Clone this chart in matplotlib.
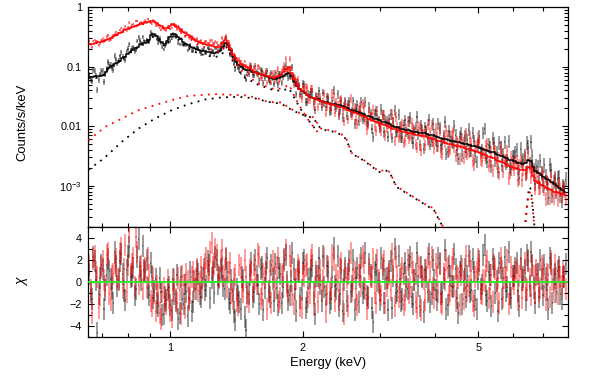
import numpy as np
import matplotlib
matplotlib.use('Agg')
import matplotlib.pyplot as plt
from matplotlib.ticker import FixedLocator, NullFormatter, LogLocator, MultipleLocator

plt.rcParams['font.family'] = ['Liberation Sans', 'DejaVu Sans']

# Channel grid (bin centres, keV): 360 channels, model given per pair of channels
n_bins = 360
energy = np.geomspace(0.655, 7.9, n_bins)
step = (np.log10(7.9) - np.log10(0.655)) / (n_bins - 1)
e_lo = energy * (1 - 10 ** (-step / 2))
e_hi = energy * (10 ** (step / 2) - 1)
energy_model = np.sqrt(energy[0::2] * energy[1::2])

# Folded model per channel pair, log10(counts/s/keV)
model_black = [
    -1.17, -1.17, -1.16, -1.16, -1.15, -1.13, -1.08, -1.02, -0.99, -0.96,
    -0.94, -0.90, -0.86, -0.83, -0.79, -0.75, -0.72, -0.69, -0.66, -0.62,
    -0.60, -0.60, -0.55, -0.47, -0.45, -0.48, -0.53, -0.58, -0.62, -0.57,
    -0.50, -0.45, -0.45, -0.50, -0.54, -0.58, -0.61, -0.63, -0.66, -0.68,
    -0.70, -0.72, -0.73, -0.74, -0.75, -0.75, -0.76, -0.76, -0.75, -0.73,
    -0.66, -0.60, -0.64, -0.72, -0.84, -0.92, -0.97, -1.01, -1.03, -1.05,
    -1.06, -1.08, -1.09, -1.11, -1.12, -1.14, -1.16, -1.18, -1.19, -1.20,
    -1.20, -1.19, -1.17, -1.15, -1.12, -1.10, -1.16, -1.25, -1.32, -1.38,
    -1.41, -1.44, -1.47, -1.50, -1.52, -1.54, -1.55, -1.57, -1.59, -1.60,
    -1.61, -1.62, -1.63, -1.64, -1.65, -1.66, -1.68, -1.70, -1.72, -1.73,
    -1.75, -1.76, -1.78, -1.80, -1.82, -1.83, -1.85, -1.87, -1.88, -1.90,
    -1.92, -1.93, -1.95, -1.97, -1.99, -2.01, -2.02, -2.04, -2.05, -2.06,
    -2.07, -2.08, -2.09, -2.10, -2.11, -2.12, -2.12, -2.13, -2.14, -2.15,
    -2.17, -2.18, -2.20, -2.21, -2.22, -2.23, -2.24, -2.25, -2.26, -2.27,
    -2.28, -2.29, -2.30, -2.31, -2.33, -2.34, -2.35, -2.37, -2.38, -2.40,
    -2.41, -2.43, -2.44, -2.46, -2.48, -2.50, -2.52, -2.54, -2.56, -2.57,
    -2.59, -2.61, -2.62, -2.63, -2.62, -2.57, -2.59, -2.68, -2.75, -2.78,
    -2.82, -2.85, -2.88, -2.91, -2.94, -2.97, -3.00, -3.03, -3.07, -3.10]

model_red = [
    -0.61, -0.61, -0.60, -0.59, -0.58, -0.57, -0.55, -0.53, -0.51, -0.49,
    -0.46, -0.44, -0.41, -0.39, -0.37, -0.35, -0.33, -0.31, -0.29, -0.28,
    -0.27, -0.25, -0.24, -0.23, -0.23, -0.26, -0.29, -0.32, -0.35, -0.35,
    -0.31, -0.28, -0.29, -0.33, -0.37, -0.41, -0.44, -0.47, -0.50, -0.53,
    -0.56, -0.58, -0.60, -0.62, -0.63, -0.64, -0.65, -0.66, -0.66, -0.66,
    -0.60, -0.55, -0.60, -0.70, -0.80, -0.86, -0.91, -0.95, -0.97, -1.00,
    -1.02, -1.05, -1.08, -1.11, -1.12, -1.14, -1.15, -1.16, -1.18, -1.19,
    -1.18, -1.16, -1.13, -1.08, -1.03, -1.00, -1.10, -1.20, -1.30, -1.37,
    -1.40, -1.43, -1.47, -1.50, -1.53, -1.55, -1.56, -1.58, -1.60, -1.61,
    -1.62, -1.63, -1.65, -1.66, -1.67, -1.68, -1.70, -1.72, -1.74, -1.76,
    -1.77, -1.79, -1.81, -1.83, -1.85, -1.87, -1.89, -1.91, -1.92, -1.94,
    -1.96, -1.98, -2.00, -2.02, -2.04, -2.05, -2.07, -2.08, -2.09, -2.10,
    -2.11, -2.12, -2.13, -2.14, -2.15, -2.16, -2.17, -2.18, -2.19, -2.21,
    -2.22, -2.24, -2.25, -2.27, -2.28, -2.29, -2.30, -2.32, -2.33, -2.34,
    -2.35, -2.37, -2.38, -2.39, -2.40, -2.41, -2.43, -2.45, -2.47, -2.49,
    -2.51, -2.52, -2.54, -2.56, -2.58, -2.60, -2.62, -2.64, -2.66, -2.68,
    -2.70, -2.72, -2.74, -2.74, -2.73, -2.69, -2.71, -2.84, -2.92, -2.95,
    -2.98, -3.00, -3.03, -3.05, -3.08, -3.10, -3.11, -3.13, -3.14, -3.15]

# Residuals (data - model) / error: first and second channel of each pair
chi_black_a = [
    0.8, -1.5, 1.9, -4.6, 0.4, 1.2, -0.7, 2.1, 0.3, -1.9,
    1.5, 0.2, 2.6, -0.8, 1.1, 3.2, 0.6, -1.2, 2.3, 1.4,
    3.3, 0.9, -0.5, 1.8, -1.4, 0.3, -2.2, -0.9, -2.9, -1.6,
    -0.4, -2.5, -1.1, 0.7, -2.8, -1.5, -0.2, -3.1, 0.9, -1.8,
    -0.6, 0.8, -1.3, 1.2, -0.3, 1.6, 0.4, -1.0, 2.0, 0.5,
    1.3, -0.6, 0.9, -1.9, -0.8, -3.4, -1.2, -2.4, 0.2, -4.3,
    -1.1, 1.8, -0.9, 0.6, -2.0, 1.4, -0.5, 2.2, -1.3, 0.3,
    1.7, -2.1, 0.8, -0.4, 2.5, -1.6, 0.1, 1.2, -2.6, 0.9,
    -0.7, 2.0, -1.8, 0.4, 1.5, -2.9, 0.6, -0.2, 2.4, -1.2,
    0.9, -1.5, 3.1, -0.6, -2.2, 1.1, 0.2, -1.7, 1.9, -0.3,
    -2.5, 1.3, 0.5, -1.0, 2.7, -1.4, 0.7, -3.6, 1.6, -0.1,
    2.2, -1.9, 0.4, 1.0, -2.3, 3.0, -0.8, 0.3, -1.5, 1.8,
    -0.6, 2.3, -2.0, 0.8, -0.3, 1.4, -2.7, 0.5, 2.6, -1.1,
    0.2, -1.6, 1.7, -0.9, 2.9, -2.1, 0.6, -0.4, 1.2, -2.8,
    1.5, 0.1, -1.3, 2.4, -0.7, 0.9, -2.4, 1.9, -0.2, 3.4,
    -1.7, 0.7, 2.1, -1.0, -2.6, 1.3, 0.4, -0.8, 2.8, -1.4,
    0.6, 1.8, -2.2, 0.2, 1.1, 2.5, -0.3, 1.6, -1.9, 0.8,
    2.0, -1.2, 0.4, -2.4, 1.7, 0.3, -0.9, 1.4, -1.5, 0.5]

chi_black_b = [
    -0.9, 2.3, 0.2, -1.1, 1.6, -2.4, 0.7, 1.0, -0.5, 2.8,
    -0.3, 1.9, 0.8, -1.6, 2.4, 0.5, 1.3, -0.6, 3.9, 0.2,
    1.1, 2.0, -1.2, 0.6, -0.8, -1.9, 0.4, -3.0, -1.3, -0.7,
    -2.1, 0.3, -1.7, -3.3, 0.5, -2.0, -0.9, -1.4, -2.6, 0.1,
    1.0, -1.1, 0.4, -0.7, 1.9, -1.4, 0.9, 2.3, -0.2, 1.1,
    -0.3, 2.1, -1.5, 0.2, -2.7, -0.6, -1.8, 0.5, -3.2, -1.0,
    0.7, -1.3, 2.0, -0.2, 1.2, -2.5, 0.9, -0.8, 1.6, -1.7,
    -0.5, 1.3, -1.9, 2.1, 0.0, -1.2, 2.7, -0.6, 1.0, -1.4,
    1.8, -2.3, 0.3, 1.1, -1.0, 0.6, 2.2, -1.7, -0.4, 1.5,
    -1.9, 0.5, -0.3, 2.4, -1.1, -2.6, 1.3, 0.8, -0.9, 2.0,
    0.4, -1.8, 2.2, -0.5, -1.2, 1.7, -2.3, 0.9, 0.1, -1.6,
    1.2, 0.3, -2.5, 1.9, 0.6, -1.0, 2.4, -1.7, 0.8, -0.4,
    1.6, -1.3, 0.2, 2.7, -2.2, 0.5, 1.1, -0.9, -1.8, 2.0,
    -0.7, 2.2, -1.1, 0.4, -2.4, 1.5, -0.3, 2.6, -1.4, 0.9,
    -2.0, 1.2, 0.6, -0.9, 2.1, -1.6, 0.3, -0.6, 2.5, -1.2,
    0.9, -2.2, 1.4, 0.1, 1.8, -1.5, 2.3, -0.4, -1.1, 0.6,
    1.3, -0.8, 2.1, 0.5, -1.6, 1.9, 2.8, -0.5, 0.7, -1.3,
    0.3, 1.6, -0.7, 2.2, -1.9, 0.8, 1.0, -1.1, 0.5, 1.7]

chi_red_a = [
    1.6, -2.8, 2.4, 0.5, -1.2, 1.9, -0.3, 2.7, -1.6, 0.8,
    2.1, 0.4, 3.1, 1.2, -0.9, 4.6, 1.7, -0.4, 2.8, 0.9,
    -0.6, 1.3, 2.2, -1.7, 0.4, -2.6, -1.1, -3.3, -0.5, -2.0,
    -1.4, -3.2, 0.2, -1.9, -0.7, 0.6, -2.3, 0.1, -1.0, 0.9,
    0.3, -0.8, 1.4, 0.6, 2.2, 1.0, 3.6, 1.7, 2.5, 0.4,
    2.9, 1.1, -0.4, 1.8, -1.5, 0.7, -2.1, 1.3, -0.9, 0.5,
    -1.8, 0.9, 1.6, -0.2, 2.3, -1.1, 0.4, -2.4, 1.0, 1.9,
    -0.6, 2.2, -1.4, 0.8, 2.9, -0.9, 1.5, -2.0, 0.3, 1.2,
    -2.3, 0.6, 1.7, -1.0, 2.5, -0.4, -1.8, 1.1, 0.2, -2.7,
    1.4, -0.5, 2.0, 0.7, -1.6, 1.8, -2.9, 0.4, 1.2, -0.8,
    0.9, -2.1, 1.6, 2.4, -0.6, -1.3, 0.5, 2.1, -1.9, 0.2,
    -1.2, 1.9, -0.3, 0.8, 2.6, -2.2, 0.6, -0.9, 1.3, -1.6,
    2.0, -0.4, 0.9, -1.8, 1.5, -2.5, 0.3, 1.1, -0.7, 2.3,
    -1.4, 0.6, 1.8, -2.0, 0.2, 1.3, -0.8, 2.1, -1.7, 0.4,
    0.7, -1.5, 2.4, -0.3, 1.0, -2.2, 0.9, 1.6, -1.1, 0.1,
    1.9, -0.6, -1.8, 1.2, 0.4, 2.2, -1.3, 0.5, -2.0, 1.4,
    -0.2, 1.1, 0.6, -1.4, 1.8, -0.7, 0.3, 1.5, -1.0, 0.8,
    -0.5, 1.2, -1.6, 0.7, 1.9, -0.9, 0.4, 1.1, -0.3, 0.6]

chi_red_b = [
    -0.7, 2.1, 0.9, -2.3, 1.4, 0.2, 2.5, -1.1, 0.6, 1.8,
    0.3, 2.7, -0.5, 3.4, 1.6, 0.8, 2.2, 4.1, -0.2, 1.5,
    1.0, -0.4, 0.7, -2.2, -1.0, -0.3, -2.8, -0.9, -1.7, 0.2,
    -2.6, -0.8, -1.5, 0.4, -2.9, -0.2, 0.8, -1.6, 0.5, -0.6,
    1.2, 0.0, -0.5, 1.7, 0.9, 2.8, 1.4, 3.0, 0.7, 1.9,
    0.6, 2.2, 0.9, -1.0, 0.3, -1.7, 1.6, -0.4, 2.0, -1.3,
    1.1, -0.7, 0.3, 2.6, -1.5, 0.8, 1.7, -0.9, -1.9, 0.5,
    1.4, -1.8, 0.6, 1.9, -0.3, 2.4, -1.2, 0.2, 1.6, -2.2,
    0.8, 1.5, -1.3, 2.0, -2.1, 0.9, 0.4, -0.8, 2.2, -1.1,
    -0.9, 2.5, -1.7, 0.1, 1.3, -0.6, 1.0, -2.2, 2.7, 0.3,
    -1.5, 0.7, -0.3, 1.8, -2.4, 1.2, 0.5, -1.0, 2.0, -0.8,
    1.6, -1.9, 0.4, -0.7, 1.1, 2.3, -1.3, 0.8, -2.1, 0.5,
    -1.0, 1.8, 0.2, -2.3, 1.3, 0.6, -1.6, 2.2, 0.9, -0.5,
    1.7, -0.9, -1.8, 0.8, 2.0, -1.2, 1.4, -0.3, 0.6, -2.1,
    1.2, 0.3, -0.8, 1.9, -1.7, 0.5, 2.1, -1.0, 0.2, 1.5,
    -1.4, 0.7, 1.6, -0.6, -1.9, 1.0, 0.4, 2.0, -1.1, 0.3,
    0.9, -1.6, 1.3, 0.2, -0.5, 2.0, -1.2, 0.6, 1.1, -0.8,
    1.5, -0.4, 0.8, -1.3, 0.2, 1.6, -1.1, 0.5, 0.9, -0.6]

# 1-sigma error in dex, one value per block of 20 channels
sigma_black = [0.05, 0.04, 0.03, 0.03, 0.035, 0.04, 0.05, 0.055, 0.065,
               0.075, 0.085, 0.09, 0.095, 0.10, 0.105, 0.11, 0.115, 0.12]
sigma_red = [0.022, 0.02, 0.02, 0.022, 0.026, 0.03, 0.045, 0.055, 0.065,
             0.075, 0.085, 0.09, 0.095, 0.10, 0.105, 0.11, 0.115, 0.12]

# Model components (dotted), log10(counts/s/keV)
hump_e_black = [0.652, 0.706, 0.776, 0.846, 0.923, 1.007, 1.098, 1.198, 1.307,
                1.427, 1.555, 1.666, 1.783, 1.88, 1.98, 2.11, 2.20, 2.30, 2.38,
                2.45, 2.51, 2.58, 2.74, 2.98, 3.08, 3.15, 3.26, 3.55, 3.87,
                3.95, 4.08, 4.30]
hump_black = [-2.73, -2.54, -2.26, -2.04, -1.87, -1.73, -1.63, -1.55, -1.515,
              -1.505, -1.53, -1.59, -1.62, -1.72, -1.80, -1.86, -2.05, -2.08,
              -2.10, -2.15, -2.22, -2.46, -2.57, -2.77, -2.74, -2.78, -3.02,
              -3.19, -3.36, -3.38, -3.58, -3.90]
hump_e_red = [0.652, 0.711, 0.776, 0.846, 0.923, 1.007, 1.098, 1.262, 1.476,
              1.555, 1.666, 1.783, 1.88, 1.98, 2.11, 2.20, 2.30, 2.38, 2.45,
              2.51, 2.58, 2.74, 2.98, 3.08, 3.15, 3.26, 3.55, 3.87, 3.95,
              4.08, 4.30]
hump_red = [-2.234, -2.01, -1.87, -1.73, -1.645, -1.56, -1.49, -1.46, -1.48,
            -1.515, -1.59, -1.60, -1.71, -1.79, -1.85, -2.04, -2.07, -2.09,
            -2.14, -2.21, -2.45, -2.56, -2.76, -2.73, -2.77, -3.01, -3.18,
            -3.35, -3.37, -3.57, -3.90]

soft_e_black = [0.652, 0.69, 0.705, 0.72, 0.75, 0.776, 0.818, 0.861, 0.884,
                0.907, 0.925, 0.948, 0.973, 0.99, 1.016, 1.04, 1.08, 1.157,
                1.262, 1.307, 1.341, 1.37, 1.40, 1.476, 1.58, 1.725, 1.80,
                1.86, 1.92, 1.98, 2.05, 2.11, 2.16]
soft_black = [-1.19, -1.18, -1.14, -1.05, -0.97, -0.88, -0.74, -0.63, -0.63,
              -0.49, -0.51, -0.58, -0.66, -0.59, -0.48, -0.54, -0.66, -0.78,
              -0.84, -0.80, -0.67, -0.80, -1.00, -1.18, -1.30, -1.40, -1.40,
              -1.36, -1.55, -1.72, -1.88, -2.00, -2.10]
soft_e_red = [0.652, 0.699, 0.737, 0.776, 0.818, 0.861, 0.907, 0.948, 0.979,
              1.016, 1.08, 1.157, 1.262, 1.307, 1.341, 1.40, 1.476, 1.58,
              1.725, 1.80, 1.86, 1.92, 1.98, 2.05, 2.11, 2.16]
soft_red = [-0.62, -0.59, -0.51, -0.42, -0.34, -0.29, -0.24, -0.32, -0.38,
            -0.30, -0.47, -0.63, -0.73, -0.74, -0.62, -0.93, -1.12, -1.28,
            -1.38, -1.36, -1.30, -1.52, -1.70, -1.88, -2.00, -2.10]

fe_e = [6.36, 6.42, 6.47, 6.51, 6.55, 6.59, 6.63, 6.68, 6.74]
fe_black = [-3.85, -3.50, -3.25, -3.08, -3.02, -3.07, -3.22, -3.50, -3.85]
fe_red = [-3.85, -3.55, -3.32, -3.17, -3.11, -3.15, -3.30, -3.55, -3.85]

datasets = [
    ('black', model_black, chi_black_a, chi_black_b, sigma_black),
    ('red', model_red, chi_red_a, chi_red_b, sigma_red),
]

fig = plt.figure(figsize=(5.98, 3.8), dpi=100)
ax1 = fig.add_axes([0.1472, 0.4018, 0.8027, 0.579])
ax2 = fig.add_axes([0.1472, 0.1124, 0.8027, 0.2894])

for color, model_log, chi_a, chi_b, sigma in datasets:
    m = np.repeat(10 ** np.array(model_log), 2)
    c = np.column_stack([chi_a, chi_b]).ravel()
    s = np.repeat(sigma, 20)
    data = m * 10 ** (c * s)
    yerr = [data * (1 - 10 ** -s), data * (10 ** s - 1)]
    ax1.errorbar(energy, data, yerr=yerr, xerr=[e_lo, e_hi], fmt='none',
                 ecolor=color, elinewidth=1.1, alpha=0.5, capsize=0)
    ax2.errorbar(energy, c, yerr=1.0, xerr=[e_lo, e_hi], fmt='none',
                 ecolor=color, elinewidth=1.1, alpha=0.5, capsize=0)

for color, model_log, chi_a, chi_b, sigma in datasets:
    ax1.plot(energy_model, 10 ** np.array(model_log), color=color, lw=1.1,
             drawstyle='steps-mid', zorder=5)

dots = (0, (1, 3))
comps = [('black', hump_e_black, hump_black), ('red', hump_e_red, hump_red),
         ('black', soft_e_black, soft_black), ('red', soft_e_red, soft_red),
         ('black', fe_e, fe_black), ('red', fe_e, fe_red)]
for color, e, v in comps:
    ax1.plot(e, 10 ** np.array(v), color=color, ls=dots, lw=1.3, zorder=6)

ax2.axhline(0, color='#22ee22', lw=1.3, zorder=7)

# Axes
for ax in (ax1, ax2):
    ax.set_xscale('log')
    ax.set_xlim(0.65, 8.0)
    ax.xaxis.set_major_locator(FixedLocator([1, 2, 5]))
    ax.xaxis.set_minor_locator(FixedLocator([0.7, 0.8, 0.9, 3, 4, 6, 7]))
    ax.xaxis.set_minor_formatter(NullFormatter())
    ax.tick_params(which='both', direction='in', top=True, right=True,
                   width=0.8, labelsize=7.8)
    ax.tick_params(which='major', length=4.5)
    ax.tick_params(which='minor', length=2.6)
    ax.tick_params(axis='x', pad=3.8)
    ax.tick_params(axis='y', pad=4.3)
    for sp in ax.spines.values():
        sp.set_linewidth(0.9)

ax1.xaxis.set_major_formatter(NullFormatter())
ax1.set_yscale('log')
ax1.set_ylim(2e-4, 1)
ax1.set_yticks([1e-3, 1e-2, 0.1, 1],
               labels=[r'$\mathregular{10^{-3}}$', '0.01', '0.1', '1'])
ax1.yaxis.set_minor_locator(LogLocator(base=10, subs=np.arange(2, 10)))
ax1.yaxis.set_minor_formatter(NullFormatter())
ax1.set_ylabel('Counts/s/keV', fontsize=9.4)
ax1.yaxis.set_label_coords(-0.1233, 0.477)

ax2.set_xticks([1, 2, 5], labels=['1', '2', '5'])
ax2.set_ylim(-5, 5)
ax2.set_yticks([-4, -2, 0, 2, 4])
ax2.yaxis.set_minor_locator(MultipleLocator(1))
ax2.set_ylabel('χ', fontsize=10, style='italic')
ax2.yaxis.set_label_coords(-0.1233, 0.5)
ax2.set_xlabel('Energy (keV)', fontsize=9.4)
ax2.xaxis.set_label_coords(0.5, -0.183)

plt.savefig('out.png', dpi=100)
